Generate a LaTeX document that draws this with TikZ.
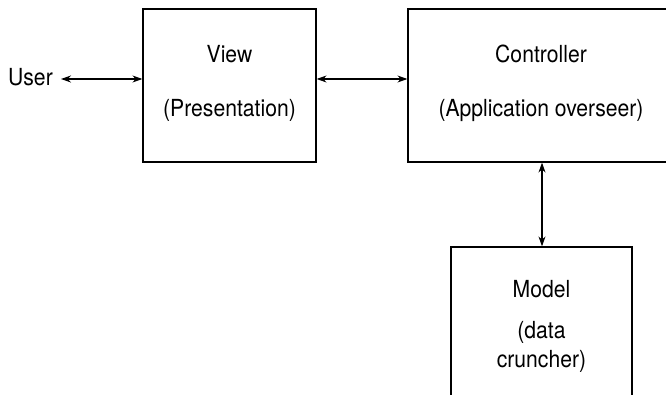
\documentclass[tikz,border=0pt]{standalone}
\usepackage{fontspec}
\setmainfont[FakeStretch=0.9]{TeX Gyre Heros}
\usetikzlibrary{arrows.meta}
\begin{document}
\begin{tikzpicture}[x=1pt,y=-1pt,
  box/.style={draw,line width=1.2pt,rectangle,inner sep=0pt},
  lbl/.style={anchor=base,inner sep=0pt,font=\fontsize{23.5}{28}\selectfont},
  link/.style={line width=1.1pt,{Stealth[length=10pt,width=7pt]}-{Stealth[length=10pt,width=7pt]}}]
\useasboundingbox (0,0) rectangle (666,395);
\node[box,minimum width=173pt,minimum height=153pt] (view) at (229.5,85.5) {};
\node[box,minimum width=266pt,minimum height=153pt] (ctrl) at (541,85.5) {};
\node[box,minimum width=181pt,minimum height=180pt] (model) at (541.5,337) {};
\node[lbl,anchor=base east] (user) at (53,86) {User};
\node[lbl] (vt1) at (229.5,63) {View};
\node[lbl] (vt2) at (229.5,117) {(Presentation)};
\node[lbl] (ct1) at (541,63) {Controller};
\node[lbl] (ct2) at (541,117) {(Application overseer)};
\node[lbl] (mt1) at (541.5,297) {Model};
\node[lbl] (mt2) at (541.5,338) {(data};
\node[lbl] (mt3) at (541.5,367) {cruncher)};
\coordinate (ua) at (61,79);
\draw[link] (ua) -- (ua -| view.west);
\draw[link] (view.east |- ua) -- (ctrl.west |- ua);
\draw[link] (ctrl.south -| 542,0) -- (model.north -| 542,0);
\end{tikzpicture}
\end{document}
